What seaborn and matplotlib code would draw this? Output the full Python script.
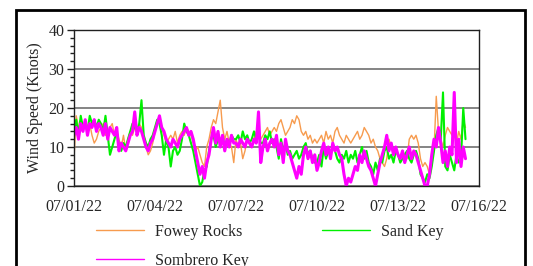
import numpy as np
import pandas as pd
import matplotlib
matplotlib.use("Agg")
import matplotlib.pyplot as plt
import matplotlib.dates as mdates
from matplotlib.patches import Rectangle
import seaborn as sns

# 2-hourly wind speed (knots), one row per day starting 07/01/22 00:00
fowey_rocks = [
    7, 18, 15, 16, 14, 17, 15, 16, 13, 11, 12, 14,
    15, 16, 13, 14, 15, 16, 13, 14, 12, 10, 13, 9,
    12, 14, 13, 15, 14, 16, 15, 12, 10, 8, 9, 11,
    14, 16, 18, 15, 13, 11, 12, 13, 12, 14, 11, 13,
    14, 13, 15, 14, 13, 11, 9, 10, 8, 6, 5, 10,
    12, 15, 17, 16, 19, 22, 15, 12, 14, 11, 10, 6,
    12, 10, 11, 7, 9, 12, 11, 10, 12, 14, 13, 12,
    13, 14, 15, 13, 14, 15, 14, 16, 17, 15, 13, 14,
    15, 17, 16, 18, 17, 14, 13, 14, 12, 13, 11, 12,
    11, 12, 13, 11, 14, 12, 13, 11, 14, 15, 13, 12,
    11, 13, 12, 11, 12, 13, 14, 12, 13, 15, 14, 13,
    11, 12, 10, 9, 7, 6, 5, 7, 12, 10, 8, 9,
    8, 7, 9, 8, 7, 12, 13, 12, 13, 11, 7, 5,
    6, 5, 3, 7, 9, 23, 14, 12, 10, 13, 15, 14,
    13, 17, 11, 14, 12, 17, 15,
]
sand_key = [
    14, 17, 13, 18, 15, 16, 14, 18, 16, 17, 15, 17,
    16, 14, 18, 13, 8, 10, 12, 14, 10, 9, 11, 10,
    12, 14, 16, 15, 14, 16, 22, 13, 11, 10, 12, 13,
    15, 17, 16, 13, 8, 12, 10, 5, 9, 10, 8, 9,
    12, 16, 14, 13, 11, 9, 6, 3, 0, 1, 4, 5,
    9, 12, 13, 10, 12, 11, 13, 10, 12, 11, 13, 12,
    12, 13, 11, 14, 12, 13, 11, 12, 14, 12, 13, 11,
    11, 13, 12, 14, 11, 12, 10, 7, 12, 9, 11, 8,
    9, 7, 8, 9, 7, 8, 10, 11, 8, 9, 7, 6,
    6, 8, 5, 10, 7, 9, 8, 10, 9, 7, 6, 8,
    7, 9, 6, 8, 7, 9, 6, 8, 10, 7, 9, 6,
    5, 3, 6, 4, 7, 6, 9, 10, 7, 8, 6, 9,
    8, 6, 7, 8, 9, 7, 6, 8, 9, 7, 3, 2,
    1, 3, 2, 5, 9, 13, 15, 12, 24, 5, 4, 8,
    6, 4, 8, 6, 7, 20, 12,
]
sombrero_key = [
    13, 15, 12, 16, 14, 17, 13, 16, 15, 17, 14, 16,
    15, 13, 16, 12, 15, 14, 13, 15, 9, 11, 10, 9,
    11, 13, 14, 19, 13, 15, 14, 12, 10, 9, 11, 12,
    14, 16, 18, 15, 14, 12, 11, 10, 12, 11, 10, 12,
    13, 14, 15, 13, 14, 12, 9, 6, 3, 5, 2, 6,
    8, 12, 15, 11, 14, 10, 13, 9, 12, 10, 13, 11,
    11, 10, 12, 11, 10, 12, 11, 10, 12, 11, 19, 6,
    10, 12, 9, 11, 12, 10, 13, 8, 11, 6, 12, 9,
    8, 6, 4, 2, 5, 3, 8, 10, 7, 9, 6, 8,
    4, 6, 9, 11, 8, 10, 7, 11, 9, 10, 8, 7,
    3, 0, 2, 1, 3, 5, 4, 8, 6, 9, 7, 5,
    4, 2, 0, 3, 6, 8, 10, 13, 9, 11, 8, 10,
    8, 7, 9, 6, 8, 10, 7, 9, 8, 6, 4, 2,
    0, 0, 3, 8, 12, 10, 15, 11, 6, 9, 5, 10,
    8, 24, 6, 12, 5, 10, 7,
]

stations = ["Fowey Rocks", "Sand Key", "Sombrero Key"]
colors = ["#F79B4E", "#00F000", "#FF00FF"]
widths = [1.0, 1.5, 2.2]

times = pd.date_range("2022-07-01 00:00", periods=len(fowey_rocks), freq="2h")
df = pd.DataFrame({
    "time": np.concatenate([times] * 3),
    "speed": fowey_rocks + sand_key + sombrero_key,
    "station": np.repeat(stations, len(times)),
})

sns.set_style("white")
plt.rcParams["font.family"] = ["Liberation Serif", "DejaVu Serif"]

fig = plt.figure(figsize=(5.33, 2.66), dpi=100)
ax = fig.add_axes([0.1388, 0.3008, 0.7599, 0.5864])

for name, c, w in zip(stations, colors, widths):
    sns.lineplot(data=df[df["station"] == name], x="time", y="speed",
                 color=c, linewidth=w, label=name, ax=ax, legend=False)

ax.set_ylim(0, 40)
ax.set_xlim(pd.Timestamp("2022-07-01"), pd.Timestamp("2022-07-16"))
ax.set_yticks([0, 10, 20, 30, 40])
ax.set_yticks(np.arange(0, 41, 2), minor=True)
ax.xaxis.set_major_locator(mdates.DayLocator(bymonthday=[1, 4, 7, 10, 13, 16]))
ax.xaxis.set_major_formatter(mdates.DateFormatter("%m/%d/%y"))
ax.xaxis.set_minor_locator(mdates.DayLocator())
ax.grid(axis="y", which="major", color="#707070", linewidth=1.2)
ax.set_axisbelow(True)
for s in ax.spines.values():
    s.set_color("#202020")
    s.set_linewidth(1.0)
ax.tick_params(axis="x", which="major", direction="inout", length=7, width=1,
               labelsize=11.5, pad=6, color="#202020")
ax.tick_params(axis="x", which="minor", direction="in", length=4, width=1,
               color="#202020")
ax.tick_params(axis="y", which="major", direction="out", length=5, width=1,
               labelsize=11.5, pad=2, color="#202020", left=True)
ax.tick_params(axis="y", which="minor", direction="out", length=3, width=1,
               color="#202020", left=True)
ax.set_xlabel("")
ax.set_ylabel("Wind Speed (Knots)", fontsize=11.5, labelpad=4)

# legend: Fowey / Sand Key on the first row, Sombrero below
handles, labels = ax.get_legend_handles_labels()
order = [0, 2, 1]
leg = fig.legend([handles[i] for i in order], [labels[i] for i in order],
                 ncol=2, frameon=False, loc="upper left",
                 bbox_to_anchor=(0.18, 0.158), fontsize=11.5, handlelength=3.0,
                 handletextpad=0.7, columnspacing=4.6, labelspacing=0.8,
                 borderpad=0, borderaxespad=0)
for line in leg.get_lines():
    line.set_linewidth(1.0)

fig.patches.append(Rectangle((16 / 533, -0.2), (525 - 16) / 533, 1 - 10 / 266 + 0.2,
                             transform=fig.transFigure, fill=False,
                             edgecolor="black", linewidth=2, zorder=-1))

fig.savefig("out.png", dpi=100)
